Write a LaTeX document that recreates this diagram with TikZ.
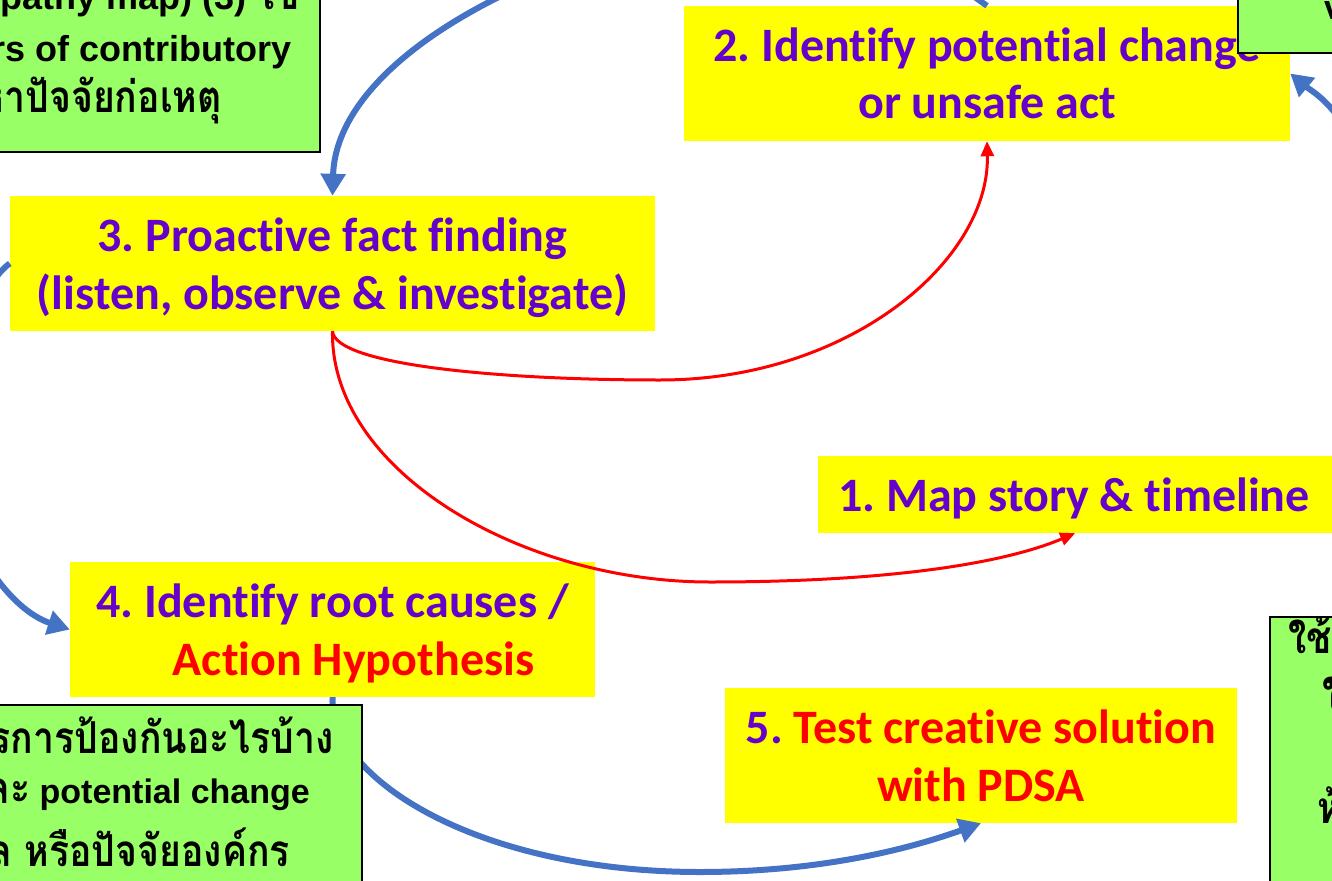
\documentclass[tikz,border=0pt]{standalone}
\usepackage{fontspec}
\setmainfont{Carlito}[Ligatures=NoCommon]
\newfontfamily\arialfont{Liberation Sans}
\newfontfamily\thaifont[Script=Thai,FakeStretch=0.85]{Loma}
\usetikzlibrary{arrows.meta,calc}
\frenchspacing
\definecolor{stepyellow}{HTML}{FFFF00}
\definecolor{notegreen}{HTML}{99FF66}
\definecolor{steppurple}{HTML}{6600CC}
\definecolor{flowblue}{HTML}{4472C4}
\definecolor{linkred}{HTML}{FF0000}
\newcommand\thaitext[1]{{\thaifont\bfseries\fontsize{44}{52}\selectfont #1}}
% fixed line extents so every step box sets its lines at the same heights
\newcommand\topstrut{\rule{0pt}{45pt}}
\newcommand\botstrut{\rule[-12pt]{0pt}{12pt}}
\tikzset{
  stepbox/.style={fill=stepyellow, inner sep=0pt, align=center, text=steppurple,
    font=\bfseries\fontsize{48}{58}\selectfont},
  notebox/.style={fill=notegreen, draw=black, line width=2pt},
  entext/.style={font=\arialfont\bfseries\fontsize{34}{40}\selectfont, inner sep=0pt},
  enbig/.style={font=\arialfont\bfseries\fontsize{36}{42}\selectfont, inner sep=0pt},
  thtext/.style={font=\thaifont\bfseries\fontsize{44}{52}\selectfont, inner sep=0pt},
  blueflow/.style={draw=flowblue, line width=6pt, -{Triangle[length=22pt,width=24pt]}},
  redlink/.style={draw=linkred, line width=3pt, -{Triangle[length=15pt,width=13pt]}},
}
\begin{document}
\begin{tikzpicture}[x=1pt,y=-1pt]
\useasboundingbox (0,0) rectangle (1332,880);
\begin{scope}
\clip (0,0) rectangle (1332,880);

% step boxes
\node[stepbox, minimum width=606pt, minimum height=135pt] (box2) at (987,73.5)
  {\topstrut 2. Identify potential change\\or unsafe act\botstrut};
\node[stepbox, minimum width=645pt, minimum height=135pt] (box3) at (332.5,263.5)
  {\topstrut 3. Proactive fact finding\\(listen, observe \& investigate)\botstrut};
\node[stepbox, anchor=west, minimum height=77pt, inner xsep=20pt] (box1)
  at (818,494.5) {\makebox[560pt][l]{\topstrut 1. Map story \& timeline\botstrut}};
\node[stepbox, minimum width=525pt, minimum height=135pt] (box4) at (332.5,629.5)
  {\topstrut 4. Identify root causes /\\\hspace*{42pt}\textcolor{linkred}{Action Hypothesis}\botstrut};
\node[stepbox, minimum width=512pt, minimum height=135pt] (box5) at (981,755.5)
  {\topstrut 5. \textcolor{linkred}{Test creative solution}\\\textcolor{linkred}{with PDSA}\botstrut};

% incoming / outgoing ends beyond the frame
\coordinate (topin) at (505,-6);
\coordinate (rightin) at (1350,135);
\coordinate (stubtail) at (962,-12);

% blue flow arrows
\draw[blueflow] (topin) .. controls (400,45) and (335,110) .. (box3.north);
\draw[draw=flowblue, line width=6pt] (stubtail) -- (box2.north);
\draw[blueflow] (rightin) .. controls (1330,100) and (1310,90) .. (box2.east);
\draw[blueflow] (box3.west) .. controls (-15,280) and (-45,350) .. (-45,445)
  .. controls (-45,540) and (10,610) .. (box4.west);
\draw[blueflow] (box4.south) .. controls (330,780) and (480,872) .. (700,872)
  .. controls (830,872) and (920,845) .. (box5.south);

% red links from fact finding
\draw[redlink] (box3.south) .. controls (335,365) and (500,380) .. (660,380)
  .. controls (850,380) and (990,260) .. (box2.south);
\draw[redlink] (box3.south) .. controls (330,470) and (520,582) .. (710,582)
  .. controls (880,582) and (1000,565) .. ([xshift=-43pt]box1.south);

% note boxes
\path[notebox] (-10,-10) rectangle (320,152);
\path[notebox] (1238,-10) rectangle (1345,53);
\path[notebox] (-10,705) rectangle (362,895);
\path[notebox] (1270,617) rectangle (1345,895);

% note texts
\node[enbig, anchor=base east] (tl1) at (300,10) {Empathy map) (3) \thaitext{ใช้}};
\node[enbig, anchor=base east] (tl2) at (292,62) {5 layers of contributory};
\node[thtext, anchor=base east] (tl3) at (222,113) {หาปัจจัยก่อเหตุ};

\node[entext, anchor=base west] (tr1) at (1324,20) {v};

\node[thtext, anchor=base east] (bl1) at (334,753) {มีมาตรการป้องกันอะไรบ้าง};
\node[entext, anchor=base east] (bl2) at (310,803) {\thaitext{และ} potential change};
\node[thtext, anchor=base east] (bl3) at (290,866) {ปัจจัยบุคคล หรือปัจจัยองค์กร};

\node[thtext, anchor=base west] (br1) at (1288,653) {ใช้};
\node[thtext, anchor=base west] (br2) at (1322,710) {ใ};
\node[thtext, anchor=base west] (br4) at (1317,823) {ห้};
\end{scope}
\end{tikzpicture}
\end{document}
